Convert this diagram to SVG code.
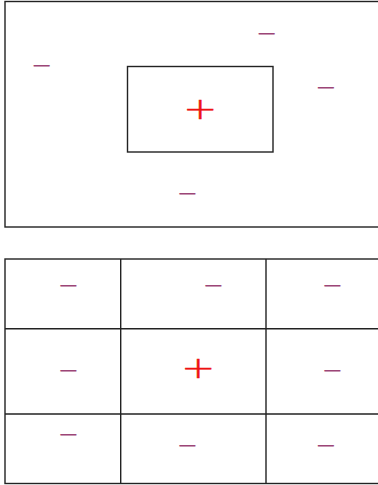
<svg xmlns="http://www.w3.org/2000/svg" width="378" height="485" viewBox="0 0 378 485">
<style>
  .frame{fill:none;stroke:#222;stroke-width:1.4}
  .neg{font-family:"Liberation Sans",Arial,sans-serif;font-size:22px;fill:#9c4677;text-anchor:middle}
  .pos{font-family:"DejaVu Sans",sans-serif;font-weight:200;font-size:30px;fill:#ee1111;stroke:#ee1111;stroke-width:0.5;text-anchor:middle}
</style>
<rect width="378" height="485" fill="#fff"/>
<g id="top-panel">
  <rect class="frame" x="5" y="1.5" width="380" height="225.5"/>
  <rect class="frame" x="127.5" y="66.5" width="145.5" height="85.5"/>
  <text class="pos" transform="translate(200.3,109.5) scale(1.37,1)" x="0" y="9.6">+</text>
  <text class="neg" transform="translate(266.7,34.3) scale(1.5,1)" x="0" y="7.1">−</text>
  <text class="neg" transform="translate(41.7,66.3) scale(1.5,1)" x="0" y="7.1">−</text>
  <text class="neg" transform="translate(326,88) scale(1.5,1)" x="0" y="7.1">−</text>
  <text class="neg" transform="translate(187.3,194.3) scale(1.5,1)" x="0" y="7.1">−</text>
</g>
<g id="bottom-grid">
  <rect class="frame" x="5" y="259" width="380" height="224.5"/>
  <line class="frame" x1="120.7" y1="259" x2="120.7" y2="483.5"/>
  <line class="frame" x1="266" y1="259" x2="266" y2="483.5"/>
  <line class="frame" x1="5" y1="328.7" x2="385" y2="328.7"/>
  <line class="frame" x1="5" y1="414" x2="385" y2="414"/>
  <text class="pos" transform="translate(198.3,368.8) scale(1.37,1)" x="0" y="9.6">+</text>
  <text class="neg" transform="translate(68.3,285.7) scale(1.5,1)" x="0" y="7.1">−</text>
  <text class="neg" transform="translate(213.3,285.7) scale(1.5,1)" x="0" y="7.1">−</text>
  <text class="neg" transform="translate(332.3,285.7) scale(1.5,1)" x="0" y="7.1">−</text>
  <text class="neg" transform="translate(68.3,371) scale(1.5,1)" x="0" y="7.1">−</text>
  <text class="neg" transform="translate(332.3,371) scale(1.5,1)" x="0" y="7.1">−</text>
  <text class="neg" transform="translate(68.3,435) scale(1.5,1)" x="0" y="7.1">−</text>
  <text class="neg" transform="translate(187.3,446) scale(1.5,1)" x="0" y="7.1">−</text>
  <text class="neg" transform="translate(326,446) scale(1.5,1)" x="0" y="7.1">−</text>
</g>
</svg>
